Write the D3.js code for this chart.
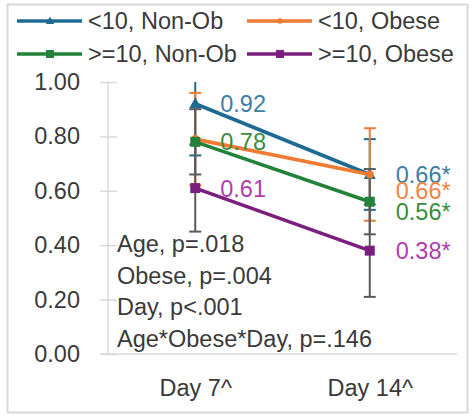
<!DOCTYPE html>
<html>
<head>
<meta charset="utf-8">
<script src="https://cdn.jsdelivr.net/npm/d3@7/dist/d3.min.js"></script>
<style>
  html, body { margin: 0; padding: 0; background: #fff; }
  svg { display: block; }
  text { font-family: "Liberation Sans", Arial, sans-serif; }
</style>
</head>
<body>
<svg id="chart" width="474" height="416"></svg>
<script>
// Categories and series
const days = ["Day 7^", "Day 14^"];
const seriesNames = ["<10, Non-Ob", "<10, Obese", ">=10, Non-Ob", ">=10, Obese"];
const nonObYoung = [0.92, 0.66];
const obeseYoung = [0.79, 0.66];
const nonObOlder = [0.78, 0.56];
const obeseOlder = [0.61, 0.38];
// Error bar half-widths (same order as the values)
const errNonObYoung = [0.19, 0.13];
const errObeseYoung = [0.17, 0.17];
const errNonObOlder = [0.12, 0.12];
const errObeseOlder = [0.16, 0.17];
// Value labels (null = no label drawn)
const labelsNonObYoung = ["0.92", "0.66*"];
const labelsObeseYoung = [null, "0.66*"];
const labelsNonObOlder = ["0.78", "0.56*"];
const labelsObeseOlder = ["0.61", "0.38*"];
const yTicks = [0, 0.2, 0.4, 0.6, 0.8, 1.0];
const notes = ["Age, p=.018", "Obese, p=.004", "Day, p<.001", "Age*Obese*Day, p=.146"];

const series = [
  { name: seriesNames[0], values: nonObYoung, err: errNonObYoung, labels: labelsNonObYoung,
    color: "#1f6a93", labelColor: "#3b7ea6", errColor: "#1f6a93", marker: "triangle", labelDy: [0, 0] },
  { name: seriesNames[1], values: obeseYoung, err: errObeseYoung, labels: labelsObeseYoung,
    color: "#f07b32", labelColor: "#f08545", errColor: "#f07b32", marker: "circle", labelDy: [0, 16] },
  { name: seriesNames[2], values: nonObOlder, err: errNonObOlder, labels: labelsNonObOlder,
    color: "#22823a", labelColor: "#3a8c3f", errColor: "#5a5a5a", marker: "square", labelDy: [0, 10] },
  { name: seriesNames[3], values: obeseOlder, err: errObeseOlder, labels: labelsObeseOlder,
    color: "#7a1f7e", labelColor: "#b03cb0", errColor: "#5a5a5a", marker: "square", labelDy: [0, 0] }
];

const FONT = 23.5;
const TEXT = "#3a3a3a";
const svg = d3.select("#chart");

// Outer chart border
svg.append("rect").attr("x", 7.5).attr("y", 4.5).attr("width", 460).attr("height", 408)
  .attr("fill", "#fff").attr("stroke", "#d9d9d9").attr("stroke-width", 2);

const x = d3.scalePoint().domain(days).range([108, 457]).padding(0.5);
const y = d3.scaleLinear().domain([0, 1]).range([354, 82]);
const yMax = y.domain()[1];

// Y axis with ticks crossing the axis line
const yAxis = svg.append("g").attr("transform", "translate(108,0)")
  .call(d3.axisLeft(y).tickValues(yTicks).tickFormat(d3.format(".2f")).tickSize(8));
yAxis.select(".domain").attr("stroke", "#d9d9d9").attr("stroke-width", 1.5)
  .attr("d", `M0,${y(0)}V${y(1)}`);
yAxis.selectAll(".tick line").attr("x1", -8).attr("x2", 9).attr("stroke", "#d9d9d9").attr("stroke-width", 1.5);
yAxis.selectAll(".tick text").attr("x", -28).attr("font-size", FONT).attr("fill", TEXT)
  .attr("font-family", "Liberation Sans, Arial, sans-serif");

// X axis
const xAxis = svg.append("g").attr("transform", `translate(0,${y(0)})`)
  .call(d3.axisBottom(x).tickSize(0));
xAxis.select(".domain").attr("stroke", "#d9d9d9").attr("stroke-width", 1.5)
  .attr("d", `M100,0H457`);
xAxis.selectAll(".tick text").attr("y", 42).attr("dy", 0).attr("font-size", FONT).attr("fill", TEXT)
  .attr("font-family", "Liberation Sans, Arial, sans-serif");

// Lines
const line = d3.line().x((d, i) => x(days[i])).y(d => y(d));
svg.append("g").selectAll("path").data(series).join("path")
  .attr("d", s => line(s.values)).attr("fill", "none")
  .attr("stroke", s => s.color).attr("stroke-width", 3.6);

// Error bars, clipped to the plot area
const eb = svg.append("g");
series.forEach(s => {
  s.values.forEach((v, i) => {
    const cx = x(days[i]);
    const hi = v + s.err[i], lo = v - s.err[i];
    const top = y(Math.min(hi, yMax)), bot = y(Math.max(lo, 0));
    eb.append("line").attr("x1", cx).attr("x2", cx).attr("y1", top).attr("y2", bot)
      .attr("stroke", s.errColor).attr("stroke-width", 2);
    if (hi <= yMax) eb.append("line").attr("x1", cx - 6).attr("x2", cx + 6).attr("y1", y(hi)).attr("y2", y(hi))
      .attr("stroke", s.errColor).attr("stroke-width", 2);
    eb.append("line").attr("x1", cx - 6).attr("x2", cx + 6).attr("y1", y(lo)).attr("y2", y(lo))
      .attr("stroke", s.errColor).attr("stroke-width", 2);
  });
});

function drawMarker(g, type, cx, cy, color, scale) {
  const k = scale || 1;
  if (type === "triangle") {
    const h = 11 * k, w = 12 * k;
    g.append("path").attr("d", `M${cx},${cy - h * 0.6}L${cx + w / 2},${cy + h * 0.4}L${cx - w / 2},${cy + h * 0.4}Z`)
      .attr("fill", color);
  } else if (type === "circle") {
    g.append("circle").attr("cx", cx).attr("cy", cy).attr("r", 4 * k).attr("fill", color);
  } else {
    const a = 10 * k;
    g.append("rect").attr("x", cx - a / 2).attr("y", cy - a / 2).attr("width", a).attr("height", a).attr("fill", color);
  }
}

// Markers
const mk = svg.append("g");
series.forEach(s => s.values.forEach((v, i) => drawMarker(mk, s.marker, x(days[i]), y(v), s.color)));

// Value labels
const lab = svg.append("g");
series.forEach(s => s.values.forEach((v, i) => {
  if (!s.labels[i]) return;
  lab.append("text").attr("x", x(days[i]) + (i === 0 ? 25 : 26)).attr("y", y(v) + s.labelDy[i])
    .attr("dy", "0.36em").attr("font-size", FONT).attr("fill", s.labelColor).text(s.labels[i]);
}));

// Statistics notes
svg.append("g").selectAll("text").data(notes).join("text")
  .attr("x", 117).attr("y", (d, i) => 252 + i * 31.6)
  .attr("font-size", FONT).attr("fill", TEXT).text(d => d);

// Legend
const legendPos = [[17, 21], [247, 21], [17, 54], [247, 54]];
const lg = svg.append("g");
series.forEach((s, i) => {
  const [lx, ly] = legendPos[i];
  lg.append("line").attr("x1", lx).attr("x2", lx + 65).attr("y1", ly).attr("y2", ly)
    .attr("stroke", s.color).attr("stroke-width", 3.6);
  drawMarker(lg, s.marker, lx + 33, ly, s.color, s.marker === "square" ? 0.8 : 0.7);
  lg.append("text").attr("x", lx + 71).attr("y", ly).attr("dy", "0.36em")
    .attr("font-size", FONT).attr("fill", TEXT).text(s.name);
});
</script>
</body>
</html>
